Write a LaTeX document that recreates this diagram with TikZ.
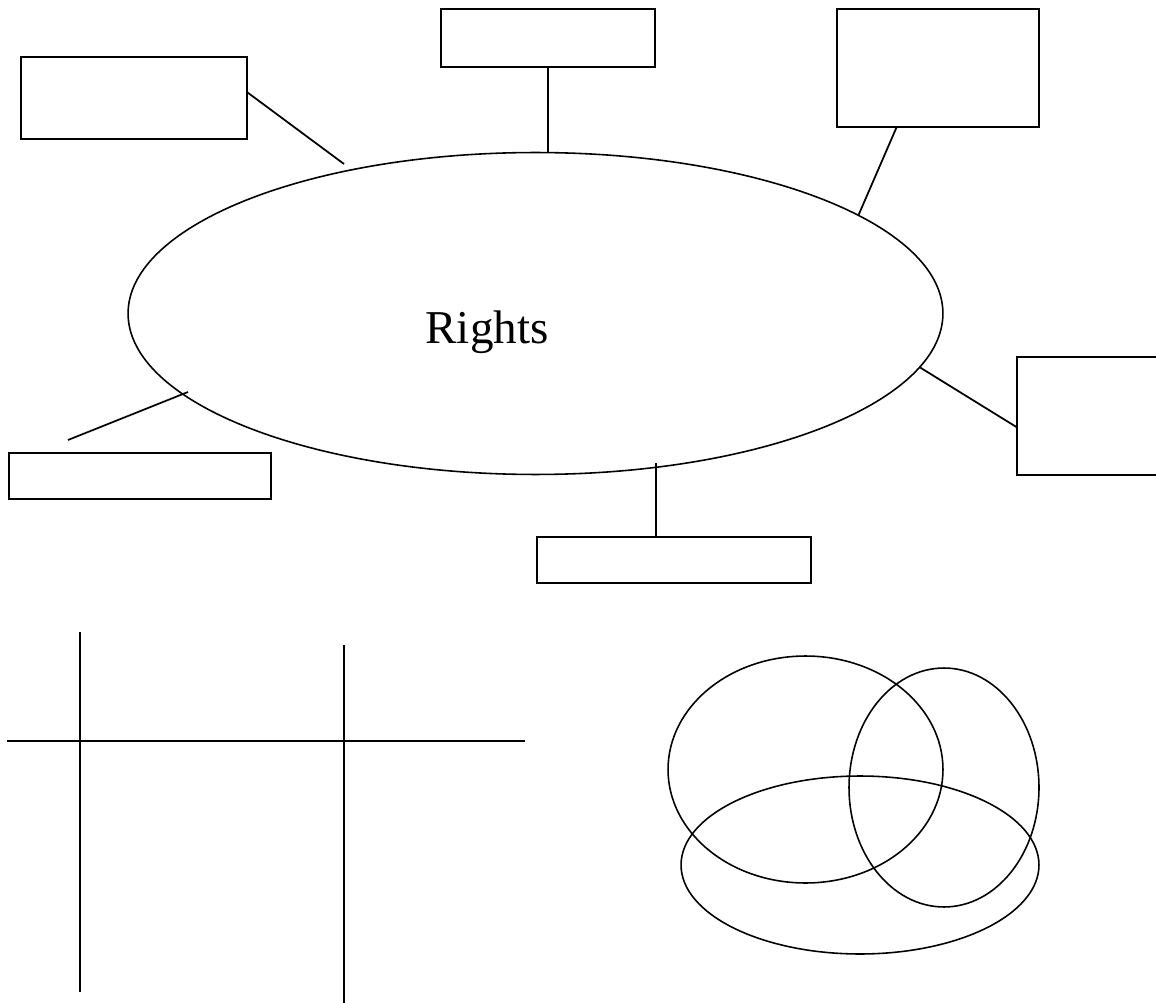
\documentclass[tikz,border=0pt]{standalone}
\usepackage{fontspec}
\setmainfont{Liberation Serif}
\usetikzlibrary{shapes.geometric}

\begin{document}
\begin{tikzpicture}[
    x=0.02cm, y=-0.02cm,
    box/.style={draw, rectangle, inner sep=0pt, outer sep=0pt, line width=1.1pt},
    link/.style={line width=1pt},
    ring/.style={line width=0.9pt}
]
    \clip (0,0) rectangle (1156,1003);
    \useasboundingbox (0,0) rectangle (1156,1003);

    \node[draw, ellipse, ring, minimum width=16.3cm, minimum height=6.44cm, inner sep=0pt] (rights) at (535.5,313.5) {};
    \node[font=\fontsize{26.8}{32}\selectfont, anchor=base] (title) at (487,344) {Rights};

    \node[box, minimum width=4.52cm, minimum height=1.64cm] (tl) at (134,98) {};
    \node[box, minimum width=4.28cm, minimum height=1.16cm] (tc) at (548,38) {};
    \node[box, minimum width=4.04cm, minimum height=2.36cm] (tr) at (938,68) {};
    \node[box, minimum width=3.24cm, minimum height=2.36cm] (rt) at (1098,416) {};
    \node[box, minimum width=5.24cm, minimum height=0.92cm] (bl) at (140,476) {};
    \node[box, minimum width=5.48cm, minimum height=0.92cm] (bc) at (674,560) {};

    \coordinate (tlend) at (344,164);
    \coordinate (blstart) at (68,440);
    \coordinate (blend) at (188,392);
    \coordinate (bcstart) at (656,463);

    \draw[link] (tl.3) -- (tlend);
    \draw[link] (tc.south) -- (tc.south |- rights.north);
    \draw[link] (tr.235) -- (rights.17);
    \draw[link] (rights.-8) -- (rt.188);
    \draw[link] (blstart) -- (blend);
    \draw[link] (bcstart) -- (bcstart |- bc.north);

    \draw[link] (7,741) -- (525,741);
    \draw[link] (80,632) -- (80,992);
    \draw[link] (344,645) -- (344,1003);

    \draw[ring] (805.5,769.5) ellipse [x radius=2.75cm, y radius=2.27cm];
    \draw[ring] (944,787.5) ellipse [x radius=1.9cm, y radius=2.39cm];
    \draw[ring] (860,865) ellipse [x radius=3.58cm, y radius=1.78cm];
\end{tikzpicture}
\end{document}
